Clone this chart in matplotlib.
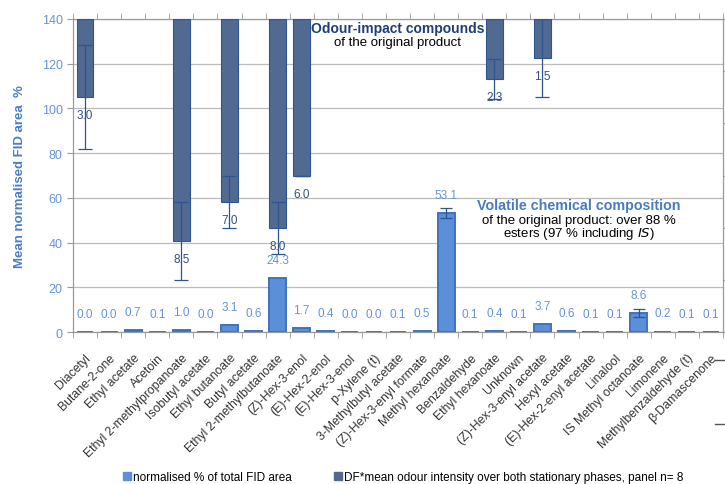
import numpy as np
import matplotlib
matplotlib.use("Agg")
import matplotlib.pyplot as plt
from matplotlib.lines import Line2D

plt.rcParams['font.family'] = ['Liberation Sans', 'DejaVu Sans']

compounds = [
    "Diacetyl", "Butane-2-one", "Ethyl acetate", "Acetoin",
    "Ethyl 2-methylpropanoate", "Isobutyl acetate", "Ethyl butanoate",
    "Butyl acetate", "Ethyl 2-methylbutanoate", "(Z)-Hex-3-enol",
    "(E)-Hex-2-enol", "(E)-Hex-3-enol", "p-Xylene (t)",
    "3-Methylbutyl acetate", "(Z)-Hex-3-enyl formate", "Methyl hexanoate",
    "Benzaldehyde", "Ethyl hexanoate", "Unknown", "(Z)-Hex-3-enyl acetate",
    "Hexyl acetate", "(E)-Hex-2-enyl acetate", "Linalool",
    "IS Methyl octanoate", "Limonene", "Methylbenzaldehyde (t)",
    "β-Damascenone",
]

# normalised % of total FID area
fid_area = [0.0, 0.0, 0.7, 0.1, 1.0, 0.0, 3.1, 0.6, 24.3, 1.7, 0.4, 0.0, 0.0,
            0.1, 0.5, 53.1, 0.1, 0.4, 0.1, 3.7, 0.6, 0.1, 0.1, 8.6, 0.2, 0.1, 0.1]
fid_err = {15: 2.2, 23: 1.8}

# DF*mean odour intensity (hanging bars, right axis)
odour_idx = [0, 4, 6, 8, 9, 17, 19]
odour_val = [3.0, 8.5, 7.0, 8.0, 6.0, 2.3, 1.5]
odour_err = [2.0, 1.5, 1.0, 1.0, 0.0, 0.75, 1.5]

light = '#5B8FD8'
light_edge = '#3F73BF'
dark = '#506A92'
dark_edge = '#2F5590'
label_light = '#6494D8'
label_dark = '#34507E'

fig = plt.figure(figsize=(7.25, 4.85), dpi=100)
ax = fig.add_axes([73 / 725, 1 - 333 / 485, 650 / 725, 313 / 485])

x = np.arange(len(compounds))
ax.bar(x, fid_area, width=0.7, color=light, edgecolor=light_edge, linewidth=1.4,
       zorder=3, clip_on=False)
for i, e in fid_err.items():
    ax.errorbar(i, fid_area[i], yerr=e, fmt='none', ecolor='#2F5590',
                elinewidth=0.9, capsize=4, capthick=0.9, zorder=4)
for i, v in enumerate(fid_area):
    ax.annotate(f"{v:.1f}", (i, v), xytext=(0, 13), textcoords='offset points',
                ha='center', va='center', fontsize=8.5, color=label_light, zorder=5)

ax.set_xlim(-0.5, len(compounds) - 0.5)
ax.set_ylim(0, 140)
ax.set_yticks(np.arange(0, 141, 20))
ax.yaxis.grid(True, color='#BBBBBB', linewidth=0.9, zorder=0)
ax.set_axisbelow(True)
ax.tick_params(axis='y', colors='#999999', labelcolor=label_light, labelsize=9,
               length=4, direction='out')
ax.set_ylabel("Mean normalised FID area  %", color='#4A7EC0', fontsize=9.5,
              fontweight='bold', labelpad=11)

ax.set_xticks(x)
ax.set_xticklabels(compounds, rotation=45, ha='right', rotation_mode='anchor',
                   fontsize=8.8, color='#333333')
ax.set_xticks(np.arange(-0.5, len(compounds)), minor=True)
ax.tick_params(axis='x', which='major', length=0, pad=14)
ax.tick_params(axis='x', which='minor', length=4, color='#999999',
               top=True, direction='out')
for s in ax.spines.values():
    s.set_color('#999999')
    s.set_zorder(2)

ax2 = ax.twinx()
ax2.set_ylim(12, 0)
ax2.set_yticks(np.arange(0, 13, 2))
ax2.tick_params(axis='y', length=4, color='#999999', labelright=False)
ax2.bar(odour_idx, odour_val, width=0.7, color=dark, edgecolor=dark_edge,
        linewidth=0.8, zorder=3)
ax2.errorbar(odour_idx, odour_val, yerr=odour_err, fmt='none', ecolor='#2F5590',
             elinewidth=0.9, capsize=5, capthick=0.9, zorder=4)
for i, v in zip(odour_idx, odour_val):
    ax2.annotate(f"{v:.1f}", (i, v), xytext=(0, -13), textcoords='offset points',
                 ha='center', va='center', fontsize=8.5, color=label_dark, zorder=5)
for s in ax2.spines.values():
    s.set_color('#999999')

fig.text(398 / 725, 1 - 29 / 485, "Odour-impact compounds", ha='center', va='center',
         fontsize=10, fontweight='bold', color='#1F3F73')
fig.text(398 / 725, 1 - 43 / 485, "of the original product", ha='center', va='center',
         fontsize=9.5, color='black')
fig.text(579 / 725, 1 - 206 / 485, "Volatile chemical composition", ha='center',
         va='center', fontsize=10.3, fontweight='bold', color='#4A7BBF')
fig.text(579 / 725, 1 - 221 / 485, "of the original product: over 88 %", ha='center',
         va='center', fontsize=9.5, color='black')
fig.text(579 / 725, 1 - 234 / 485, r"esters (97 % including $\it{IS}$)", ha='center',
         va='center', fontsize=9.5, color='black')

# legend along the bottom edge
handles = [plt.Rectangle((0, 0), 1, 1, color=light),
           plt.Rectangle((0, 0), 1, 1, color=dark)]
fig.legend(handles, ["normalised % of total FID area",
                     "DF*mean odour intensity over both stationary phases, panel n= 8"],
           loc='center left', bbox_to_anchor=(112 / 725, 1 - 478 / 485), ncol=2,
           frameon=False, fontsize=8.5, handlelength=0.7, handleheight=0.7,
           handletextpad=0.15, columnspacing=3.6)

for yy in (361, 425):
    fig.add_artist(Line2D([715 / 725, 1.0], [1 - yy / 485] * 2, color='#555555',
                          linewidth=1.0))

fig.savefig("out.png", dpi=100)
